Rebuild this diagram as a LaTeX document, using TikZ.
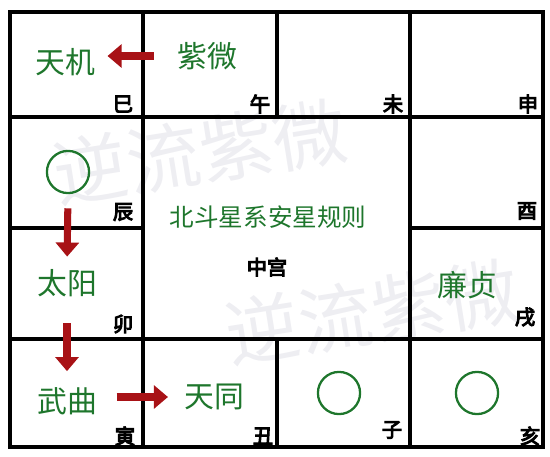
\documentclass[tikz,border=0pt]{standalone}
\usepackage{fontspec}
\newfontfamily\cjk{Noto Sans CJK SC}
\newfontfamily\cjkbold[FakeBold=5]{Noto Sans CJK SC}
\usetikzlibrary{arrows.meta}
\definecolor{stargreen}{RGB}{30,118,44}
\definecolor{movered}{RGB}{168,18,22}
\definecolor{marklight}{RGB}{238,238,242}

\begin{document}
\begin{tikzpicture}[x=0.02cm, y=-0.02cm]
        \tikzstyle{star}=[text=stargreen, font=\cjk\fontsize{17}{17}\selectfont, inner sep=1pt];
        \tikzstyle{branch}=[font=\cjkbold\fontsize{11.5}{11.5}\selectfont, inner sep=0pt];
        \tikzstyle{empty}=[draw=stargreen, line width=1.3pt, circle, minimum size=24pt, inner sep=0pt];
        \tikzstyle{move}=[draw=movered, line width=4pt, -{Triangle[width=13pt, length=8pt]}];
        \tikzstyle{grid}=[line width=2.3pt, line cap=rect];
        \useasboundingbox (0,0) rectangle (550,456);

        % watermark
        \node[text=marklight, font=\cjk\fontsize{42}{42}\selectfont, rotate=9] (mark1) at (200,152) {逆流紫微};
        \node[text=marklight, font=\cjk\fontsize{42}{42}\selectfont, rotate=9] (mark2) at (372,312) {逆流紫微};

        % palace grid
        \draw[grid] (10,12) rectangle (543,447);
        \draw[grid] (143,12) -- (143,447);
        \draw[grid] (410,12) -- (410,447);
        \draw[grid] (277,12) -- (277,117);
        \draw[grid] (277,339) -- (277,447);
        \draw[grid] (10,117) -- (543,117);
        \draw[grid] (10,339) -- (543,339);
        \draw[grid] (10,228) -- (143,228);
        \draw[grid] (410,228) -- (543,228);

        % earthly branches
        \node[branch] (si) at (123,104) {巳};
        \node[branch] (wu) at (260,104) {午};
        \node[branch] (wei) at (393,104) {未};
        \node[branch] (shen) at (528,104) {申};
        \node[branch] (chen) at (123,212) {辰};
        \node[branch] (you) at (527,211) {酉};
        \node[branch] (mao) at (123,324) {卯};
        \node[branch] (xu) at (525,317) {戌};
        \node[branch] (yin) at (125,436) {寅};
        \node[branch] (chou) at (263,436) {丑};
        \node[branch] (zi) at (392,430) {子};
        \node[branch] (hai) at (530,436) {亥};
        \node[branch] (center) at (267,267) {中宫};

        % stars
        \node[star, font=\cjk\fontsize{14}{14}\selectfont] (title) at (268,217) {北斗星系安星规则};
        \node[star] (tianji) at (65,62) {天机};
        \node[star] (ziwei) at (207,56) {紫微};
        \node[empty] (chenstar) at (68,172) {};
        \node[star] (taiyang) at (67,283) {太阳};
        \node[star] (wuqu) at (67,401) {武曲};
        \node[star] (tiantong) at (214,397) {天同};
        \node[empty] (zistar) at (339,393) {};
        \node[empty] (haistar) at (477,393) {};
        \node[star] (lianzhen) at (467,285) {廉贞};

        \draw[move, shorten <=12pt, shorten >=6pt] (ziwei.west) -- (tianji.east |- ziwei.west);
        \draw[move, shorten <=8pt, shorten >=6pt] (chenstar.south) -- (taiyang.north);
        \draw[move, shorten <=14pt, shorten >=8pt] (taiyang.south) -- (wuqu.north);
        \draw[move, shorten <=10pt, shorten >=8pt] (wuqu.east |- tiantong.west) -- (tiantong.west);
\end{tikzpicture}
\end{document}
